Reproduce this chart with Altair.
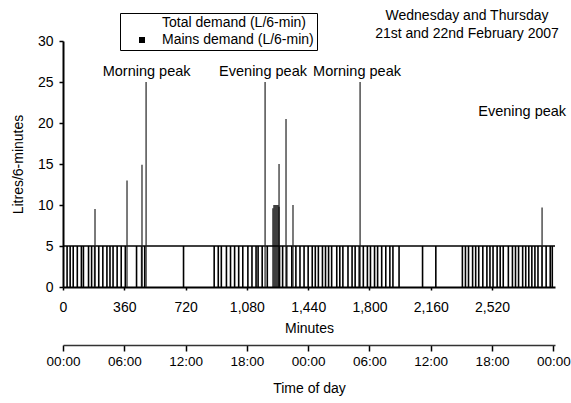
import altair as alt
import pandas as pd

FONT = "Liberation Sans"

# ---- data -----------------------------------------------------------------
# Total demand: 6-minute intervals in which demand reached the 5 L level (minute of the period)
pulse_minutes = [24, 42, 60, 84, 108, 120, 150, 168, 186, 210, 234, 258, 276, 294, 318, 342, 366,
                 432, 462, 480, 708,
                 888, 912, 930, 960, 984, 1008, 1032, 1056, 1086, 1110, 1134, 1146, 1170, 1200,
                 1272, 1290, 1314, 1344, 1368, 1392, 1416, 1440, 1464,
                 1482, 1500, 1524, 1542, 1560, 1578, 1608, 1626, 1644, 1674, 1698, 1716, 1740,
                 1764, 1788, 1806, 1830, 1848, 1872, 1896, 1920, 1938, 1974, 2112, 2190,
                 2346, 2364, 2382, 2406, 2424, 2442, 2466, 2490, 2508, 2526, 2550, 2568, 2586,
                 2616, 2640, 2658, 2676, 2700, 2718, 2736, 2754, 2772, 2790, 2814, 2838, 2862, 2874]
pulse_level = 5
level_line_start = 0
level_line_end = 2890

# Total demand spikes above the 5 L level
spike_minutes = [188, 376, 464, 488, 1187, 1269, 1310, 1351, 1745, 2814]
spike_values = [9.5, 13.0, 14.9, 25.0, 25.0, 15.0, 20.5, 10.0, 25.0, 9.7]

# Mains demand (6-minute intervals)
mains_minutes = [1230, 1236, 1242, 1248, 1254, 1260, 1266]
mains_values = [9.6, 10.0, 10.0, 10.0, 10.0, 10.0, 9.8]
interval = 6

# Annotations
note_text = ["Morning peak", "Evening peak", "Morning peak", "Evening peak"]
note_minute = [491, 1175, 1727, 2697]
note_value = [26.2, 26.2, 26.2, 21.3]

series_names = ["Total demand (L/6-min)", "Mains demand (L/6-min)"]
title_lines = ["Wednesday and Thursday", "21st and 22nd February 2007"]
title_minute = [2373, 2373]
title_value = [33.1, 30.9]

x_ticks = [0, 360, 720, 1080, 1440, 1800, 2160, 2520]
y_ticks = [0, 5, 10, 15, 20, 25, 30]
hour_ticks = [0, 6, 12, 18, 24, 30, 36, 42, 48]
hour_labels = ["00:00", "06:00", "12:00", "18:00", "00:00", "06:00", "12:00", "18:00", "00:00"]

# ---- tables ------------------------------------------------------------------
level_df = pd.DataFrame({"minute": [level_line_start], "end": [level_line_end], "level": [pulse_level]})
pulse_df = pd.DataFrame({"minute": pulse_minutes, "bottom": 0, "level": pulse_level})
spike_df = pd.DataFrame({"minute": spike_minutes, "bottom": 0, "level": spike_values})
mains_df = pd.DataFrame({"minute": mains_minutes, "bottom": 0, "level": mains_values})
note_df = pd.DataFrame({"minute": note_minute, "level": note_value, "text": note_text})
title_df = pd.DataFrame({"minute": title_minute, "level": title_value, "text": title_lines})
legend_df = pd.DataFrame({"series": series_names})
hour_df = pd.DataFrame({"hour": hour_ticks})

x_scale = alt.Scale(domain=[0, 2890], nice=False)
y_scale = alt.Scale(domain=[0, 30], nice=False)

x_axis = alt.Axis(values=x_ticks, format=",.0f", labelFontSize=14, labelFont=FONT, labelColor="black",
                  titleFontSize=14, titleFont=FONT, titleFontWeight="normal", titleColor="black",
                  domainColor="black", domainWidth=2, tickColor="black", tickSize=3, tickWidth=1.5,
                  labelPadding=10, titlePadding=7, grid=False, labelFlush=False)
y_axis = alt.Axis(values=y_ticks, labelFontSize=14, labelFont=FONT, labelColor="black",
                  titleFontSize=14, titleFont=FONT, titleFontWeight="normal", titleColor="black",
                  domainColor="black", domainWidth=2, tickColor="black", tickSize=4, tickWidth=1.5,
                  labelPadding=6, titlePadding=12, grid=False, labelFlush=False)


def X(field):
    return alt.X(f"{field}:Q", scale=x_scale, axis=x_axis, title="Minutes")


def Y(field):
    return alt.Y(f"{field}:Q", scale=y_scale, axis=y_axis, title="Litres/6-minutes")


level_line = alt.Chart(level_df).mark_rule(color="black", strokeWidth=1.6).encode(
    x=X("minute"), x2="end:Q", y=Y("level"))

pulses = alt.Chart(pulse_df).mark_rule(color="black", strokeWidth=1.6).encode(
    x=X("minute"), y=Y("bottom"), y2="level:Q")

spikes = alt.Chart(spike_df).mark_rule(color="#222222", strokeWidth=1.2).encode(
    x=X("minute"), y=Y("bottom"), y2="level:Q")

mains = alt.Chart(mains_df).transform_calculate(end=f"datum.minute + {interval}").mark_rect(
    color="black").encode(x=X("minute"), x2="end:Q", y=Y("bottom"), y2="level:Q")

notes = alt.Chart(note_df).mark_text(font=FONT, fontSize=14.5, color="black").encode(
    x=X("minute"), y=Y("level"), text="text:N")

title_text = alt.Chart(title_df).mark_text(font=FONT, fontSize=14, color="black").encode(
    x=X("minute"), y=Y("level"), text="text:N")

legend_layer = alt.Chart(legend_df).mark_square(opacity=0).encode(
    x=alt.value(0), y=alt.value(0),
    color=alt.Color("series:N",
                    scale=alt.Scale(domain=series_names, range=["white", "black"]),
                    legend=alt.Legend(orient="none", legendX=57, legendY=-28, title=None,
                                      strokeColor="black", padding=3, symbolOffset=12,
                                      labelOffset=13, labelFontSize=14, labelFont=FONT,
                                      labelColor="black", rowPadding=3, symbolSize=36,
                                      symbolType="square", symbolOpacity=1,
                                      symbolStrokeWidth=0, labelLimit=300)))

label_expr = "[" + ",".join(f"'{t}'" for t in hour_labels) + "][round(datum.value / 6)]"
time_axis_layer = alt.Chart(hour_df).mark_point(opacity=0).encode(
    x=alt.X("hour:Q", scale=alt.Scale(domain=[0, 2890 / 60], nice=False),
            axis=alt.Axis(orient="bottom", offset=58, values=hour_ticks, labelExpr=label_expr,
                          labelFontSize=13.5, labelFont=FONT, labelColor="black",
                          title="Time of day", titleFontSize=14, titleFont=FONT,
                          titleFontWeight="normal", titleColor="black", titlePadding=14,
                          domainColor="#333333", domainWidth=1.3, tickColor="black",
                          tickSize=6, tickWidth=1.5, labelPadding=3, grid=False,
                          labelFlush=False)),
    y=alt.value(0))

minutes_chart = alt.layer(level_line, pulses, spikes, mains, notes, title_text, legend_layer)

chart = alt.layer(minutes_chart, time_axis_layer).resolve_scale(x="independent").properties(
    width=492, height=246,
    autosize=alt.AutoSizeParams(type="none"),
    padding={"left": 63, "top": 41, "right": 16, "bottom": 116},
    background="white",
).configure_view(stroke=None)

chart.save("out.html", embed_options={"renderer": "svg", "actions": False})
